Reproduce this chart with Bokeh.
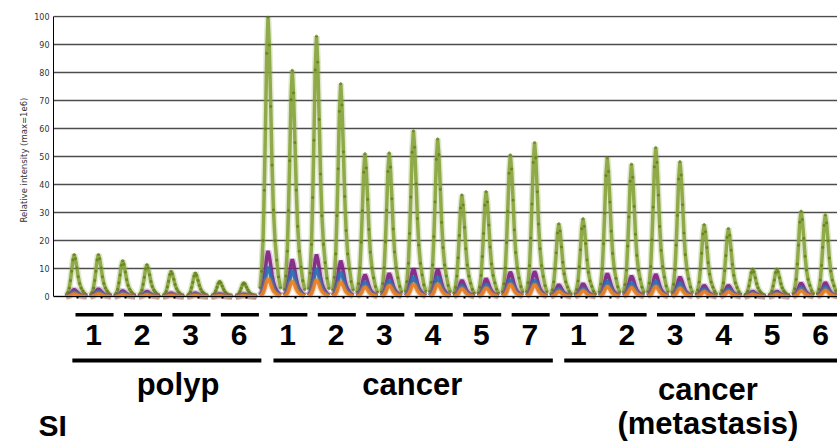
import numpy as np
from bokeh.plotting import figure
from bokeh.layouts import column
from bokeh.models import Range1d, FixedTicker
from bokeh.core.properties import value
from bokeh.embed import file_html
from bokeh.resources import INLINE

# ---------------- data ----------------
sample_labels = ["1", "2", "3", "6",
                 "1", "2", "3", "4", "5", "7",
                 "1", "2", "3", "4", "5", "6"]
group_names = ["polyp", "cancer", "cancer\n(metastasis)"]
group_sizes = [4, 6, 6]          # samples per group (2 runs per sample)
panel_tag = "SI"

green = [15.0, 15.0, 12.8, 11.4, 9.0, 8.4, 5.4, 4.9,
         99.8, 80.8, 93.0, 76.0, 51.0, 51.3, 59.2, 56.3, 36.3, 37.5, 50.6, 55.0,
         26.0, 27.8, 49.6, 47.3, 53.2, 48.2, 25.7, 24.3, 9.8, 9.8, 30.5, 29.2]
purple = [2.5, 2.7, 2.0, 1.8, 1.2, 1.2, 0.9, 0.8,
          16.3, 13.3, 15.0, 12.8, 7.8, 8.3, 10.0, 9.8, 5.8, 6.4, 8.8, 9.0,
          4.2, 4.6, 8.2, 7.4, 8.0, 7.0, 4.0, 4.0, 1.8, 1.8, 4.8, 5.0]
blue = [1.6, 1.8, 1.3, 1.1, 0.8, 0.8, 0.6, 0.5,
        10.6, 9.4, 10.0, 8.8, 5.2, 5.8, 7.0, 7.0, 4.0, 4.3, 6.0, 6.0,
        2.8, 3.0, 5.6, 5.0, 5.5, 4.8, 2.7, 2.7, 1.2, 1.2, 3.2, 3.4]
orange = [0.9, 1.0, 0.7, 0.6, 0.4, 0.4, 0.3, 0.3,
          6.4, 5.5, 6.0, 5.2, 3.4, 4.0, 4.5, 4.5, 2.8, 3.1, 4.4, 4.3,
          1.8, 2.0, 3.6, 3.2, 3.6, 3.0, 1.7, 1.7, 0.8, 0.8, 2.1, 2.2]

# normalised elution-peak shape (offset in px from apex, fraction of apex)
profile_dx = [-8, -6.5, -5, -3.8, -2.6, -1.3, 0, 1.2, 2.7, 4, 5.4, 7, 8.7, 10.5, 12.5]
profile_f = [0.03, 0.09, 0.2, 0.38, 0.6, 0.87, 1.0, 0.9, 0.68, 0.47, 0.31, 0.2, 0.13, 0.07, 0.03]

# ---------------- layout ----------------
PX_PER_RUN = 24.23
APEX_SHIFT = -3.0
FIG_W, FIG_H = 837, 446
TOP_H = 304                      # height of the chart panel
LEFT = 53
TOP = 15
px_per_unit = 2.8


def ydat(ypx):
    return (296 - ypx) / px_per_unit


def xdat(xpx):
    return (xpx - 76.7) / PX_PER_RUN


def traces(heights):
    xs, ys = [], []
    for i, h in enumerate(heights):
        xs.append([i + (APEX_SHIFT + d) / PX_PER_RUN for d in profile_dx])
        ys.append([h * f for f in profile_f])
    return xs, ys


# ================= chart panel =================
p = figure(width=FIG_W, height=TOP_H, output_backend="svg", toolbar_location=None,
           x_range=Range1d(xdat(LEFT), xdat(FIG_W)), y_range=Range1d(ydat(TOP_H), ydat(TOP)),
           min_border_left=LEFT, min_border_right=0, min_border_top=TOP, min_border_bottom=0)
p.frame_align = False
p.outline_line_color = None
p.xgrid.visible = False

ticks = list(range(0, 101, 10))
p.yaxis.ticker = FixedTicker(ticks=ticks)
p.yaxis.bounds = (0, 100)
p.yaxis.major_tick_out = 0
p.yaxis.major_tick_in = 0
p.yaxis.minor_tick_line_color = None
p.yaxis.major_label_standoff = 4
p.yaxis.major_label_text_font = "DejaVu Sans"
p.yaxis.major_label_text_font_size = "8px"
p.yaxis.major_label_text_color = "#333333"
p.yaxis.axis_line_color = "black"
p.yaxis.axis_label = "Relative intensity (max=1e6)"
p.yaxis.axis_label_text_font = "DejaVu Sans"
p.yaxis.axis_label_text_font_size = "8.5px"
p.yaxis.axis_label_text_font_style = "normal"
p.yaxis.axis_label_text_color = "#333333"
p.yaxis.axis_label_standoff = 2

p.ygrid.ticker = FixedTicker(ticks=ticks)
p.ygrid.grid_line_color = "#4d4d4d"
p.ygrid.grid_line_width = 1.3

p.xaxis.ticker = FixedTicker(ticks=list(range(len(green))))
p.xaxis.fixed_location = 0
p.xaxis.major_label_text_color = None
p.xaxis.major_tick_out = 2
p.xaxis.major_tick_in = 0
p.xaxis.major_tick_line_width = 2
p.xaxis.minor_tick_line_color = None
p.xaxis.axis_line_color = "black"

series = [(green, "#86a33a"), (purple, "#7d1f80"), (blue, "#2c6fb3"), (orange, "#ef7f1e")]
for vals, col in series:
    xs, ys = traces(vals)
    p.multi_line(xs, ys, line_color=col, line_width=6.5, line_alpha=0.25)
    p.multi_line(xs, ys, line_color=col, line_width=3.5, line_alpha=0.9)
    if vals is green:
        p.scatter([x for s in xs for x in s], [y for s in ys for y in s],
                  size=2.2, color="#5d7a18", alpha=0.6)

# ================= annotation panel (sample / group labels) =================
q = figure(width=FIG_W, height=FIG_H - TOP_H, output_backend="svg", toolbar_location=None,
           x_range=Range1d(xdat(0), xdat(FIG_W)), y_range=Range1d(ydat(FIG_H), ydat(TOP_H)),
           x_axis_location=None, y_axis_location=None,
           min_border_left=0, min_border_right=0, min_border_top=0, min_border_bottom=0)
q.frame_align = False
q.outline_line_color = None
q.grid.visible = False

bar_x0, bar_x1, num_x = [], [], []
for j in range(len(sample_labels)):
    bar_x0.append(2 * j - 0.07)
    bar_x1.append(2 * j + 1.5)
    num_x.append(2 * j + 0.68)
yb = ydat(314.3)
q.segment(bar_x0, [yb] * len(bar_x0), bar_x1, [yb] * len(bar_x1), line_color="black", line_width=3.5)
q.text(num_x, [ydat(334)] * len(num_x), text=sample_labels, text_font=value("Liberation Sans"),
       text_font_style="bold", text_font_size="30px", text_align="center",
       text_baseline="middle", text_color="black")

line_pad = [(-0.2, 0.6), (0.1, 0.63), (0.1, 2.0)]
start = 0
gx0, gx1 = [], []
for k, n in enumerate(group_sizes):
    first, last = start, start + 2 * n - 1
    gx0.append(first + line_pad[k][0])
    gx1.append(last + line_pad[k][1])
    start += 2 * n
yg = ydat(360)
q.segment(gx0, [yg] * 3, gx1, [yg] * 3, line_color="black", line_width=3.8)

label_x = [4.16, 13.83, 26.03]
q.text([label_x[0], label_x[1]], [ydat(384), ydat(384)], text=[group_names[0], group_names[1]],
       text_font=value("Liberation Sans"), text_font_style="bold", text_font_size="31px",
       text_align="center", text_baseline="middle", text_color="black")
meta_lines = group_names[2].split("\n")
q.text([label_x[2], label_x[2]], [ydat(389), ydat(423)], text=meta_lines,
       text_font=value("Liberation Sans"), text_font_style="bold", text_font_size="31px",
       text_align="center", text_baseline="middle", text_color="black")

q.text([xdat(38)], [ydat(425)], text=[panel_tag], text_font=value("Liberation Sans"),
       text_font_style="bold", text_font_size="30px", text_align="left",
       text_baseline="middle", text_color="black")

layout = column(p, q, spacing=0)
open("out.html", "w").write(file_html(layout, INLINE))
